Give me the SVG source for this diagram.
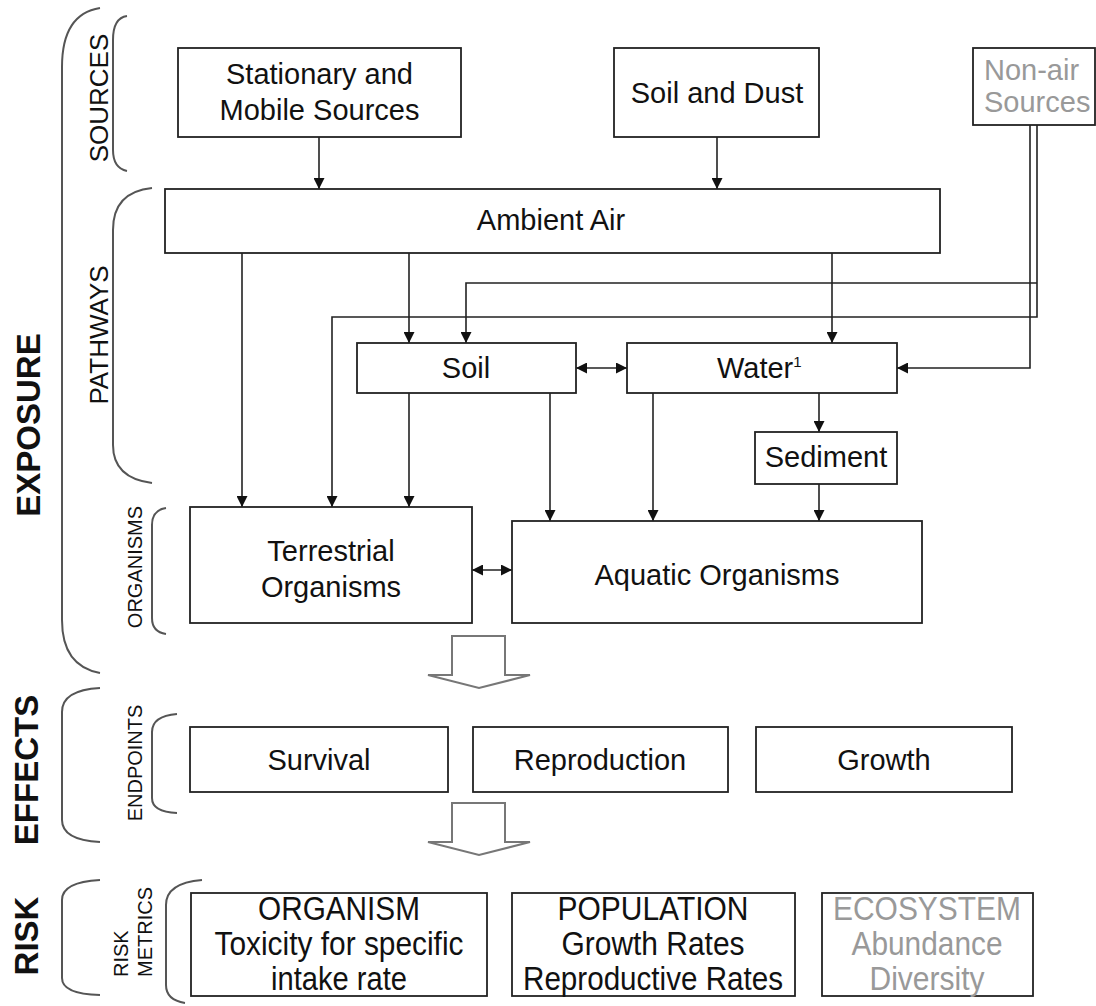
<svg xmlns="http://www.w3.org/2000/svg" width="1096" height="1006" viewBox="0 0 1096 1006">
<defs>
<marker id="ah" viewBox="0 0 10 10" refX="10" refY="5" markerWidth="11" markerHeight="11" markerUnits="userSpaceOnUse" orient="auto-start-reverse">
<path d="M0,0 L10,5 L0,10 Z" fill="#111"/>
</marker>
<style>
.box{fill:#fff;stroke:#222;stroke-width:1.8}
.t{font-family:"Liberation Sans",Arial,sans-serif;font-size:29px;fill:#111;text-anchor:middle}
.c{fill:none;stroke:#222;stroke-width:1.6}
.a{marker-end:url(#ah)}
.d{marker-start:url(#ah);marker-end:url(#ah)}
.br{fill:none;stroke:#555;stroke-width:2}
.big{font-family:"Liberation Sans",Arial,sans-serif;font-weight:bold;font-size:33px;fill:#111;text-anchor:middle}
.lab{font-family:"Liberation Sans",Arial,sans-serif;fill:#111;text-anchor:middle}
.rt{font-family:"Liberation Sans",Arial,sans-serif;font-size:33px;fill:#111;text-anchor:middle}
.hol{fill:#fff;stroke:#777;stroke-width:2}
.g{fill:#999}
</style>
</defs>

<g id="braces">
<path class="br" d="M100,8 Q62,14 62,67 L62,620 Q62,666 100,673"/>
<path class="br" d="M127,16 Q113,18 113,40 L113,150 Q113,168 127,171"/>
<path class="br" d="M152,188 Q113,192 113,230 L113,445 Q113,478 152,483"/>
<path class="br" d="M166,508 Q152,510 152,525 L152,618 Q152,632 166,634"/>
<path class="br" d="M100,688 Q62,690 62,712 L62,820 Q62,840 100,842"/>
<path class="br" d="M177,714 Q152,716 152,732 L152,798 Q152,812 177,813"/>
<path class="br" d="M100,880 Q62,882 62,900 L62,978 Q62,994 100,995"/>
<path class="br" d="M202,880 Q166,883 166,905 L166,985 Q166,1000 185,1003"/>
</g>

<g id="labels">
<text class="big" transform="translate(40,425) rotate(-90)">EXPOSURE</text>
<text class="big" transform="translate(38,770) rotate(-90)">EFFECTS</text>
<text class="big" transform="translate(38,936) rotate(-90)">RISK</text>
<text class="lab" font-size="26" transform="translate(108,98) rotate(-90)">SOURCES</text>
<text class="lab" font-size="26" transform="translate(108,335) rotate(-90)">PATHWAYS</text>
<text class="lab" font-size="20" transform="translate(142,567) rotate(-90)">ORGANISMS</text>
<text class="lab" font-size="20" transform="translate(142,763) rotate(-90)">ENDPOINTS</text>
<text class="lab" font-size="20" style="text-anchor:start" transform="translate(128,977) rotate(-90)">RISK</text>
<text class="lab" font-size="20" style="text-anchor:start" transform="translate(152,977) rotate(-90)">METRICS</text>
</g>

<g id="connectors">
<line class="c a" x1="319" y1="137" x2="319" y2="189"/>
<line class="c a" x1="717" y1="137" x2="717" y2="189"/>
<line class="c a" x1="242" y1="253" x2="242" y2="507"/>
<line class="c a" x1="409" y1="253" x2="409" y2="343"/>
<line class="c a" x1="832" y1="253" x2="832" y2="343"/>
<polyline class="c a" points="1037,125 1037,317 332,317 332,507"/>
<polyline class="c a" points="1037,283 466,283 466,343"/>
<polyline class="c a" points="1030,125 1030,368 897,368"/>
<line class="c a" x1="409" y1="393" x2="409" y2="507"/>
<line class="c a" x1="550" y1="393" x2="550" y2="521"/>
<line class="c a" x1="653" y1="393" x2="653" y2="521"/>
<line class="c a" x1="819" y1="393" x2="819" y2="432"/>
<line class="c a" x1="819" y1="484" x2="819" y2="521"/>
<line class="c d" x1="576" y1="368" x2="627" y2="368"/>
<line class="c d" x1="472" y1="570" x2="512" y2="570"/>
<path class="hol" d="M452,636 L505,636 L505,675 L530,675 L479,688 L428,675 L452,675 Z"/>
<path class="hol" d="M452,803 L505,803 L505,842 L530,842 L479,855 L428,842 L452,842 Z"/>
</g>

<g id="n-stationary"><rect class="box" x="178" y="48" width="283" height="89"/>
<text class="t" x="319.5" y="84">Stationary and</text><text class="t" x="319.5" y="120">Mobile Sources</text></g>
<g id="n-soildust"><rect class="box" x="614" y="48" width="205" height="89"/>
<text class="t" x="717" y="103">Soil and Dust</text></g>
<g id="n-nonair"><rect class="box" x="973" y="48" width="122" height="77"/>
<text class="t g" style="text-anchor:start" x="984" y="80">Non-air</text><text class="t g" style="text-anchor:start" x="984" y="112">Sources</text></g>
<g id="n-ambient"><rect class="box" x="165" y="189" width="775" height="64"/>
<text class="t" x="551" y="230">Ambient Air</text></g>
<g id="n-soil"><rect class="box" x="357" y="343" width="219" height="50"/>
<text class="t" x="466" y="378">Soil</text></g>
<g id="n-water"><rect class="box" x="627" y="343" width="270" height="50"/>
<text class="t" style="text-anchor:start" x="717" y="378">Water<tspan font-size="15" dy="-11">1</tspan></text></g>
<g id="n-sediment"><rect class="box" x="755" y="432" width="142" height="52"/>
<text class="t" x="826" y="467">Sediment</text></g>
<g id="n-terrestrial"><rect class="box" x="190" y="507" width="282" height="116"/>
<text class="t" x="331" y="561">Terrestrial</text><text class="t" x="331" y="597">Organisms</text></g>
<g id="n-aquatic"><rect class="box" x="512" y="521" width="410" height="102"/>
<text class="t" x="717" y="585">Aquatic Organisms</text></g>
<g id="n-survival"><rect class="box" x="190" y="727" width="258" height="65"/>
<text class="t" x="319" y="770">Survival</text></g>
<g id="n-reproduction"><rect class="box" x="473" y="727" width="255" height="65"/>
<text class="t" x="600" y="770">Reproduction</text></g>
<g id="n-growth"><rect class="box" x="756" y="727" width="256" height="65"/>
<text class="t" x="884" y="770">Growth</text></g>
<g id="n-organism"><rect class="box" x="191" y="893" width="296" height="103"/>
<text class="rt" x="339" y="920" textLength="162" lengthAdjust="spacingAndGlyphs">ORGANISM</text>
<text class="rt" x="339" y="955" textLength="249" lengthAdjust="spacingAndGlyphs">Toxicity for specific</text>
<text class="rt" x="339" y="990" textLength="136" lengthAdjust="spacingAndGlyphs">intake rate</text></g>
<g id="n-population"><rect class="box" x="512" y="893" width="283" height="103"/>
<text class="rt" x="653" y="920" textLength="191" lengthAdjust="spacingAndGlyphs">POPULATION</text>
<text class="rt" x="653" y="955" textLength="183" lengthAdjust="spacingAndGlyphs">Growth Rates</text>
<text class="rt" x="653" y="990" textLength="260" lengthAdjust="spacingAndGlyphs">Reproductive Rates</text></g>
<g id="n-ecosystem"><rect class="box" x="822" y="893" width="211" height="103"/>
<text class="rt g" x="927" y="920" textLength="188" lengthAdjust="spacingAndGlyphs">ECOSYSTEM</text>
<text class="rt g" x="927" y="955" textLength="151" lengthAdjust="spacingAndGlyphs">Abundance</text>
<text class="rt g" x="927" y="990" textLength="115" lengthAdjust="spacingAndGlyphs">Diversity</text></g>
</svg>
